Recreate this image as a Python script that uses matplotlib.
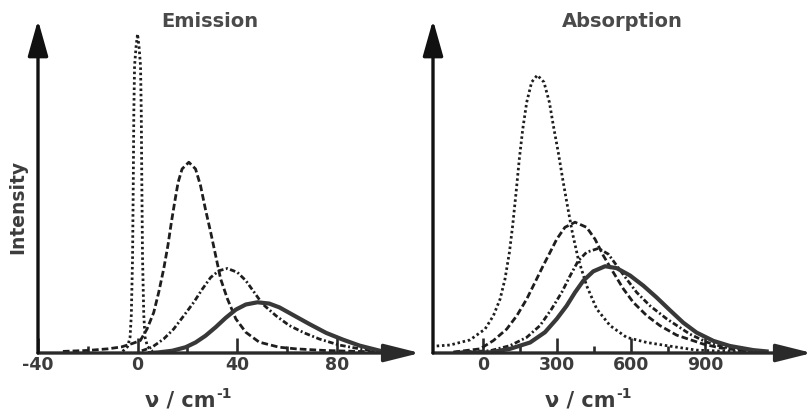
import matplotlib
matplotlib.use("Agg")
import matplotlib.pyplot as plt

plt.rcParams['font.family'] = ['DejaVu Sans']
plt.rcParams['axes.unicode_minus'] = False

TXT = '#3c3c3c'
LINE = '#1e1e1e'

# ---------------- data (intensity in % of the emission spike maximum) -------------
em_dot_x = [-6, -4, -3, -2.5, -2, -1.7, -1.5, -1.2, -0.6, 0, 0.6, 1.2, 1.5, 1.7, 2, 2.5, 3, 4, 6]
em_dot_y = [0.5, 2, 5, 12, 30, 55, 75, 90, 96, 100, 96, 90, 75, 55, 30, 12, 5, 2, 0.5]

em_dash_x = [-30, -20, -12, -6.5, -2, 1.1, 3.8, 6.5, 8.5, 10.5, 12.2, 13.6, 14.9, 16.3, 17.9,
             20.6, 23.3, 25.3, 27.3, 29.4, 31.4, 33.4, 36.1, 39.5, 43.5, 48.9, 57, 63.7, 75,
             88, 100]
em_dash_y = [0.5, 0.8, 1.3, 1.9, 3.0, 3.9, 7.5, 12.7, 19, 26.3, 33.7, 41, 47.2, 53.5, 57.7,
             59.8, 57.7, 52.5, 45, 37.8, 30.5, 23.2, 17, 10.7, 6.5, 3.4, 1.8, 1.3, 0.8,
             0.5, 0.3]

em_dd_x = [1.7, 5.8, 10.5, 14.5, 18.6, 22.6, 26, 29.4, 32.7, 36.1, 40.1, 43.5, 46.9, 50.2,
           55.6, 61, 67, 73, 81, 89.3, 100]
em_dd_y = [0.7, 1.8, 4.4, 7.5, 11.7, 15.9, 20, 23.7, 25.8, 26.5, 25.3, 22.7, 19, 15.4, 11.7,
           8.6, 6.3, 4.4, 2.5, 1.3, 0.3]

em_sol_x = [5, 8.5, 13.9, 19.3, 23.3, 27.3, 31.4, 35.4, 39.5, 43.5, 48.2, 52.9, 57, 62.3,
            69, 75.8, 82.5, 89.3, 97.4]
em_sol_y = [0, 0.2, 0.7, 1.8, 3.3, 5.4, 8.1, 11.0, 13.6, 15.2, 15.9, 15.5, 14.3, 12.0, 9.1,
            6.3, 4.2, 2.3, 0.7]

ab_dot_x = [-188, -134, -53, 8, 42, 69, 89, 107, 120, 134, 147, 161, 177, 197, 220, 247,
            269, 285, 305, 323, 342, 362, 386, 420, 461, 515, 582, 664, 745, 866, 961, 1100]
ab_dot_y = [2.2, 2.5, 4.1, 7.5, 11.7, 16.9, 23.2, 31.6, 39.9, 50.4, 60.8, 70.2, 78.6, 84.9,
            87.1, 84.9, 78.6, 71.3, 62.9, 54.5, 46.2, 37.8, 29.5, 21.1, 13.8, 8.6, 4.9, 3.3,
            2.3, 0.9, 0.6, 0.3]

ab_dash_x = [-120, -12, 42, 96, 137, 177, 211, 244, 272, 299, 332, 373, 420, 454, 488, 528,
             569, 609, 664, 717, 785, 893, 961, 1069, 1150]
ab_dash_y = [0.3, 1.3, 3.9, 7.5, 11.7, 16.9, 22.2, 27.4, 31.6, 35.7, 39.4, 41, 39.4, 35.7,
             30.5, 25.3, 20.1, 15.9, 11.7, 8.6, 5.6, 2.8, 1.6, 0.6, 0.3]

ab_dd_x = [-120, 28, 109, 177, 231, 278, 319, 353, 386, 420, 468, 508, 542, 582, 623, 677,
           745, 839, 907, 974, 1069, 1150]
ab_dd_y = [0.2, 0.7, 2.3, 4.9, 8.6, 13.8, 19, 24.2, 28.9, 31.6, 32.8, 31, 27.4, 23.2, 19,
           14.8, 10.7, 5.9, 3.4, 1.9, 0.9, 0.3]

ab_sol_x = [-100, 28, 109, 191, 251, 299, 339, 373, 407, 447, 495, 542, 596, 650, 704, 758,
            812, 866, 934, 1001, 1096, 1150]
ab_sol_y = [0.1, 0.2, 1.3, 3.3, 6.5, 10.7, 14.8, 19, 22.7, 25.6, 27.2, 26.6, 24.3, 21.1,
            17.4, 13.4, 9.5, 6.4, 3.8, 2.2, 0.9, 0.5]

titles = ['Emission', 'Absorption']
em_major = [-40, 0, 40, 80]
em_minor = [-20, 20, 60, 100]
ab_major = [0, 300, 600, 900]
ab_minor = [150, 450, 750]

# ---------------- figure ----------------
W, H = 812, 410
fig = plt.figure(figsize=(W / 100, H / 100), dpi=100)

def fx(px):
    return px / W

def fy(py):
    return 1 - py / H

ybase, ytop = 354, 21
ax1 = fig.add_axes([fx(38), fy(ybase), fx(420) - fx(38), fy(ytop) - fy(ybase)])
ax2 = fig.add_axes([fx(433), fy(ybase), fx(812) - fx(433), fy(ytop) - fy(ybase)])
ymax = (ybase - ytop) / 3.19

ax1.set_xlim(-40, 113.5)
ax2.set_xlim(-203, 1334)

common = dict(solid_joinstyle='round', dash_joinstyle='round')
styles = {
    'dot': dict(ls=(0, (0.9, 1.0)), lw=2.0, color=LINE, **common),
    'dash': dict(ls=(0, (2.4, 1.1)), lw=2.0, color=LINE, **common),
    'dd': dict(ls=(0, (2.0, 0.9, 0.7, 0.9)), lw=2.0, color=LINE, **common),
    'sol': dict(ls='-', lw=3.0, color='#383838', **common),
}

ax1.plot(em_dot_x, em_dot_y, **styles['dot'])
ax1.plot(em_dash_x, em_dash_y, **styles['dash'])
ax1.plot(em_dd_x, em_dd_y, **styles['dd'])
ax1.plot(em_sol_x, em_sol_y, **styles['sol'])

ax2.plot(ab_dot_x, ab_dot_y, **styles['dot'])
ax2.plot(ab_dash_x, ab_dash_y, **styles['dash'])
ax2.plot(ab_dd_x, ab_dd_y, **styles['dd'])
ax2.plot(ab_sol_x, ab_sol_y, **styles['sol'])

for ax, maj, mnr in [(ax1, em_major, em_minor), (ax2, ab_major, ab_minor)]:
    ax.set_ylim(0, ymax)
    for s in ax.spines.values():
        s.set_visible(False)
    ax.set_yticks([])
    ax.set_xticks(maj)
    ax.set_xticks(mnr, minor=True)
    ax.set_xticklabels([str(v) for v in maj])
    ax.tick_params(axis='x', which='major', direction='in', length=11, width=1.9,
                   color='#2a2a2a', pad=1.5, labelsize=12.5, labelcolor=TXT)
    ax.tick_params(axis='x', which='minor', direction='in', length=5, width=1.9,
                   color='#2a2a2a')
    for lab in ax.get_xticklabels():
        lab.set_fontweight('bold')
    x0, x1 = ax.get_xlim()
    # x axis arrow
    ax.annotate('', xy=(x1, 0), xytext=(x0, 0), xycoords='data',
                arrowprops=dict(arrowstyle='-|>,head_length=2.2,head_width=0.55',
                                lw=2.4, color='#2a2a2a', shrinkA=0, shrinkB=0),
                annotation_clip=False)
    # y axis arrow
    ax.annotate('', xy=(x0, ymax), xytext=(x0, 0), xycoords='data',
                arrowprops=dict(arrowstyle='-|>,head_length=2.2,head_width=0.62',
                                lw=2.4, color='#111111', shrinkA=0, shrinkB=0),
                annotation_clip=False)

# titles
fig.text(fx(210), fy(26.7), titles[0], ha='center', va='baseline', fontsize=14,
         fontweight='bold', color='#4a4a4a')
fig.text(fx(622), fy(26.7), titles[1], ha='center', va='baseline', fontsize=14,
         fontweight='bold', color='#4a4a4a')

# y label
fig.text(fx(17.5), fy(207), 'Intensity', rotation=90, ha='center', va='center',
         fontsize=13.5, fontweight='bold', color=TXT)

# x labels with superscript
fig.canvas.draw()
rend = fig.canvas.get_renderer()
for xl in [145, 545]:
    t = fig.text(fx(xl), fy(407), 'ν / cm', ha='left', va='baseline', fontsize=15,
                 fontweight='bold', color=TXT)
    bb = t.get_window_extent(renderer=rend)
    fig.text((bb.x1 + 0.5) / W, fy(398), '-1', ha='left', va='baseline', fontsize=10,
             fontweight='bold', color=TXT)

fig.savefig('out.png', dpi=100)
